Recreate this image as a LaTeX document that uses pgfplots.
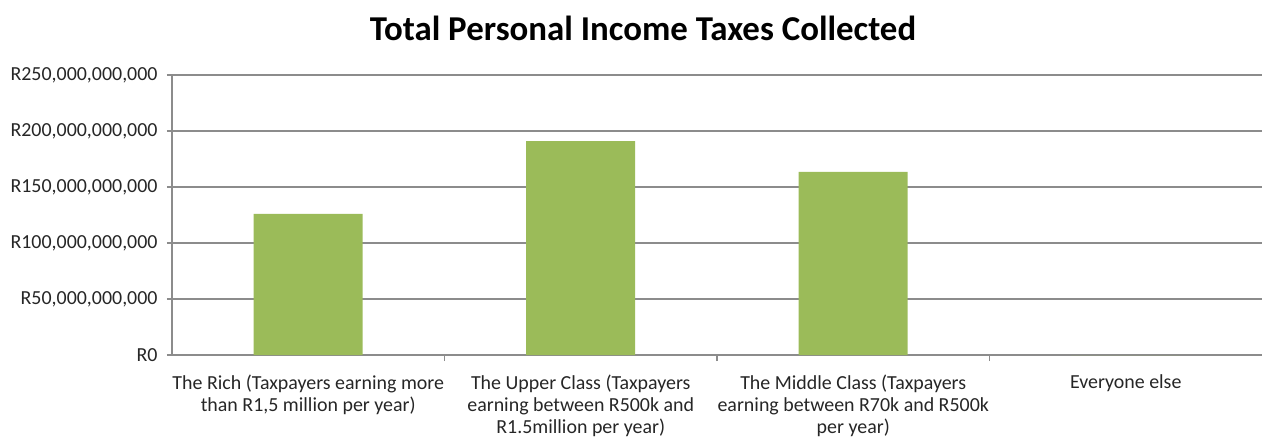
\documentclass[border=0pt]{standalone}
\usepackage{pgfplots}
\pgfplotsset{compat=1.18}
\usepackage{fontspec}
\setmainfont{Carlito}
\definecolor{bargreen}{RGB}{155,187,89}
\definecolor{gridgray}{RGB}{140,140,140}
\begin{document}
\begin{tikzpicture}[x=1bp,y=1bp]
\useasboundingbox (-172bp,-84bp) rectangle (1093bp,355bp);
\begin{axis}[
  at={(0,0)}, anchor=south west,
  scale only axis,
  width=1090bp, height=280bp,
  xmin=-0.5, xmax=3.5,
  ymin=0, ymax=250000000000,
  scaled y ticks=false,
  axis x line*=bottom, axis y line*=left,
  axis line style={gridgray, line width=1.2bp},
  ytick={0,50000000000,100000000000,150000000000,200000000000,250000000000},
  yticklabels={R0,{R50,000,000,000},{R100,000,000,000},{R150,000,000,000},{R200,000,000,000},{R250,000,000,000}},
  ymajorgrids,
  grid style={gridgray, line width=1.2bp},
  ytick style={gridgray, line width=1.2bp},
  tick align=outside,
  major tick length=5bp,
  xtick={0,1,2,3},
  xticklabels={{The Rich (Taxpayers earning more\\than R1,5 million per year)},
               {The Upper Class (Taxpayers\\earning between R500k and\\R1.5million per year)},
               {The Middle Class (Taxpayers\\earning between R70k and R500k\\per year)},
               {Everyone else}},
  x tick label style={align=center, font=\fontsize{20}{22.5}\selectfont, text=black!85, anchor=north, yshift=-11bp},
  y tick label style={font=\fontsize{20}{22}\selectfont, text=black!85, xshift=-6bp},
  xtick style={draw=none},
  extra x ticks={0.5,1.5,2.5},
  extra x tick labels={},
  extra x tick style={major tick length=6bp, grid=none, xtick style={draw=gridgray, line width=1.2bp}},
]
\addplot[ybar, bar width=0.4, fill=bargreen, draw=none] coordinates {
  (0,126000000000) (1,191000000000) (2,163500000000) (3,0)
};
\end{axis}
\node[anchor=base, font=\fontsize{35}{40}\selectfont\bfseries] at (471bp,314bp) {Total Personal Income Taxes Collected};
\end{tikzpicture}
\end{document}
